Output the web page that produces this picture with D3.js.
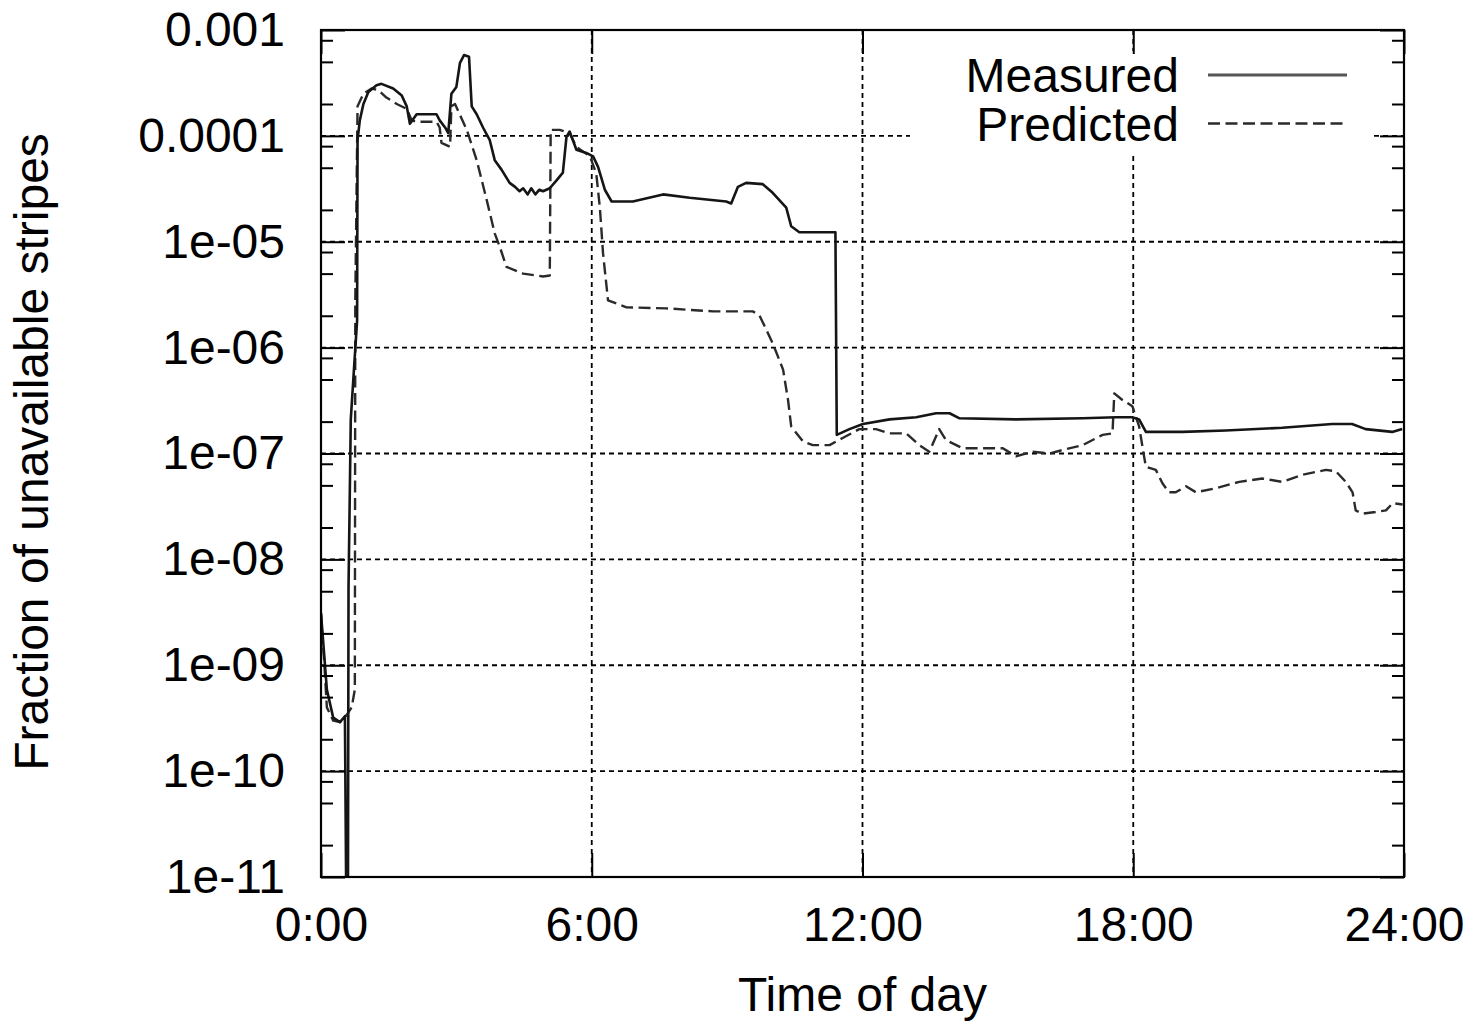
<!DOCTYPE html>
<html lang="en">
<head>
<meta charset="UTF-8">
<title>Fraction of unavailable stripes</title>
<script src="https://cdn.jsdelivr.net/npm/d3@7"></script>
<style>
  body { margin: 0; background: #fff; }
  text { font-family: "Liberation Sans", Arial, sans-serif; fill: #000; }
</style>
</head>
<body>
<script>
  // data (hours since midnight, fraction)
  var measuredHours = [0, 0.13, 0.27, 0.42, 0.53, 0.59, 0.61, 0.66, 0.73, 0.80, 0.81, 0.86, 0.94, 1.05, 1.23, 1.34,
    1.60, 1.79, 1.90, 1.97, 2.12, 2.19, 2.56, 2.63, 2.75, 2.82, 2.89, 3.00, 3.08, 3.17, 3.28, 3.34, 3.45, 3.59,
    3.74, 3.85, 4.00, 4.18, 4.30, 4.40, 4.48, 4.58, 4.66, 4.75, 4.84, 4.92, 5.07, 5.22, 5.36, 5.44, 5.51, 5.66,
    5.88, 6.03, 6.14, 6.29, 6.44, 6.91, 7.58, 8.17, 8.98, 9.09, 9.24, 9.42, 9.79, 10.01, 10.31, 10.42, 10.60,
    11.40, 11.43, 11.71, 12.01, 12.60, 13.19, 13.63, 13.93, 14.15, 15.40, 16.88, 17.62, 17.98, 18.13, 18.28,
    19.09, 20.05, 21.30, 22.41, 22.85, 23.15, 23.74, 23.96];
  var measuredValues = [3.1e-9, 5.9e-10, 3.2e-10, 2.9e-10, 3.3e-10, 1e-13, 5.4e-9, 2.1e-7, 6.2e-7, 1.8e-6, 9.1e-5,
    1.4e-4, 2.0e-4, 2.6e-4, 3.0e-4, 3.1e-4, 2.8e-4, 2.4e-4, 1.9e-4, 1.3e-4, 1.6e-4, 1.6e-4, 1.6e-4, 1.4e-4,
    1.2e-4, 1.06e-4, 2.5e-4, 2.9e-4, 4.9e-4, 5.8e-4, 5.6e-4, 1.9e-4, 1.6e-4, 1.2e-4, 9.1e-5, 5.9e-5, 4.8e-5,
    3.6e-5, 3.3e-5, 3.0e-5, 3.2e-5, 2.8e-5, 3.2e-5, 2.8e-5, 3.1e-5, 3.0e-5, 3.2e-5, 3.8e-5, 4.5e-5, 9.8e-5,
    1.1e-4, 7.4e-5, 6.9e-5, 6.4e-5, 5.1e-5, 3.1e-5, 2.4e-5, 2.4e-5, 2.8e-5, 2.6e-5, 2.4e-5, 2.3e-5, 3.3e-5,
    3.6e-5, 3.5e-5, 2.9e-5, 2.1e-5, 1.4e-5, 1.23e-5, 1.23e-5, 1.5e-7, 1.7e-7, 1.9e-7, 2.1e-7, 2.2e-7, 2.4e-7,
    2.4e-7, 2.15e-7, 2.1e-7, 2.15e-7, 2.2e-7, 2.2e-7, 2.1e-7, 1.6e-7, 1.6e-7, 1.65e-7, 1.75e-7, 1.9e-7, 1.9e-7,
    1.7e-7, 1.6e-7, 1.7e-7];

  var predictedHours = [0, 0.07, 0.13, 0.27, 0.42, 0.57, 0.68, 0.75, 0.76, 0.81, 0.94, 1.12, 1.27, 1.45, 1.68, 1.90,
    2.01, 2.12, 2.56, 2.63, 2.67, 2.86, 2.89, 2.97, 3.23, 3.45, 3.67, 3.85, 3.96, 4.11, 4.48, 4.92, 5.07, 5.09,
    5.29, 5.51, 5.66, 5.96, 6.10, 6.18, 6.25, 6.36, 6.77, 7.65, 8.69, 9.57, 9.72, 10.01, 10.24, 10.35, 10.42,
    10.68, 10.90, 11.27, 11.56, 11.93, 12.30, 12.60, 12.97, 13.26, 13.48, 13.70, 13.85, 14.22, 15.11, 15.40,
    15.77, 16.14, 16.51, 16.88, 17.32, 17.54, 17.58, 17.76, 17.98, 18.13, 18.24, 18.28, 18.50, 18.65, 18.79,
    18.94, 19.17, 19.39, 19.83, 20.35, 20.86, 21.30, 21.75, 22.27, 22.49, 22.71, 22.86, 22.93, 23.08, 23.37,
    23.60, 23.75, 23.97];
  var predictedValues = [3.1e-9, 1.1e-9, 4.0e-10, 3.0e-10, 2.9e-10, 3.4e-10, 4.0e-10, 5.9e-10, 2.8e-6, 1.9e-4,
    2.5e-4, 2.8e-4, 2.7e-4, 2.3e-4, 2.0e-4, 1.8e-4, 1.4e-4, 1.36e-4, 1.36e-4, 1.2e-4, 8.6e-5, 7.9e-5, 1.9e-4,
    2.0e-4, 1.14e-4, 5.9e-5, 2.5e-5, 1.2e-5, 9.0e-6, 5.8e-6, 5.0e-6, 4.7e-6, 4.8e-6, 1.14e-4, 1.14e-4, 1.06e-4,
    7.9e-5, 6.4e-5, 4.4e-5, 2.1e-5, 7.8e-6, 2.8e-6, 2.4e-6, 2.35e-6, 2.2e-6, 2.2e-6, 2.0e-6, 1.1e-6, 6.2e-7,
    3.2e-7, 1.8e-7, 1.3e-7, 1.2e-7, 1.2e-7, 1.4e-7, 1.7e-7, 1.7e-7, 1.55e-7, 1.55e-7, 1.2e-7, 1.04e-7, 1.7e-7,
    1.34e-7, 1.12e-7, 1.12e-7, 9.4e-8, 1.04e-7, 1.0e-7, 1.1e-7, 1.2e-7, 1.5e-7, 1.55e-7, 3.7e-7, 3.2e-7, 2.8e-7,
    1.8e-7, 9.4e-8, 7.5e-8, 7.0e-8, 5.2e-8, 4.3e-8, 4.3e-8, 4.9e-8, 4.3e-8, 4.7e-8, 5.4e-8, 5.8e-8, 5.4e-8,
    6.3e-8, 7.0e-8, 6.8e-8, 5.4e-8, 4.3e-8, 2.9e-8, 2.7e-8, 2.8e-8, 2.9e-8, 3.4e-8, 3.3e-8];

  var xTicks = [0, 6, 12, 18, 24];
  var xTickLabels = ["0:00", "6:00", "12:00", "18:00", "24:00"];
  var yTicks = [1e-11, 1e-10, 1e-9, 1e-8, 1e-7, 1e-6, 1e-5, 1e-4, 1e-3];
  var yTickLabels = ["1e-11", "1e-10", "1e-09", "1e-08", "1e-07", "1e-06", "1e-05", "0.0001", "0.001"];
  var seriesNames = ["Measured", "Predicted"];

  var W = 1469, H = 1024;
  var pLeft = 321, pRight = 1404, pTop = 30, pBottom = 877;
  var fs = 48;

  var x = d3.scaleLinear().domain([0, 24]).range([pLeft, pRight]);
  var y = d3.scaleLog().domain([1e-11, 1e-3]).range([pBottom, pTop]);

  var minorY = [];
  for (var e = -11; e < -3; e++) {
    [2, 5, 8].forEach(function(m) { minorY.push(m * Math.pow(10, e)); });
  }

  var svg = d3.select("body").append("svg").attr("width", W).attr("height", H);

  svg.append("defs").append("clipPath").attr("id", "plotclip")
    .append("rect").attr("x", pLeft).attr("y", pTop).attr("width", pRight - pLeft).attr("height", pBottom - pTop);

  // grid
  var grid = svg.append("g").attr("stroke", "#000").attr("stroke-width", 1.8).attr("stroke-dasharray", "5,4");
  grid.selectAll(".gy").data(yTicks.slice(1, -1)).enter().append("line")
    .attr("x1", pLeft).attr("x2", pRight).attr("y1", function(d) { return y(d); }).attr("y2", function(d) { return y(d); });
  grid.selectAll(".gx").data(xTicks.slice(1, -1)).enter().append("line")
    .attr("y1", pTop).attr("y2", pBottom).attr("x1", function(d) { return x(d); }).attr("x2", function(d) { return x(d); });

  // key background hides the grid
  svg.append("rect").attr("x", 910).attr("y", 51).attr("width", 462).attr("height", 101).attr("fill", "#fff");

  // curves
  var line = d3.line().x(function(d) { return x(d[0]); }).y(function(d) { return y(d[1]); });
  var measured = d3.zip(measuredHours, measuredValues);
  var predicted = d3.zip(predictedHours, predictedValues);

  var plot = svg.append("g").attr("clip-path", "url(#plotclip)");
  plot.append("path").datum(predicted).attr("d", line).attr("fill", "none")
    .attr("stroke", "#2a2a2a").attr("stroke-width", 2.4).attr("stroke-dasharray", "12,5.5")
    .attr("stroke-linejoin", "round");
  plot.append("path").datum(measured).attr("d", line).attr("fill", "none")
    .attr("stroke", "#151515").attr("stroke-width", 2.6).attr("stroke-linejoin", "round");

  // axes: ticks drawn inward, mirrored on top and right
  function styleAxis(g) {
    g.select(".domain").remove();
    g.attr("font-family", null).attr("font-size", null);
    g.selectAll("line").attr("stroke", "#000").attr("stroke-width", 2);
    g.selectAll("text").style("font-size", fs + "px").attr("fill", "#000");
  }

  svg.append("g").attr("transform", "translate(" + pLeft + ",0)")
    .call(d3.axisLeft(y).tickValues(yTicks).tickSize(-24).tickPadding(36)
      .tickFormat(function(d, i) { return yTickLabels[i]; }))
    .call(styleAxis);
  svg.append("g").attr("transform", "translate(" + pLeft + ",0)")
    .call(d3.axisLeft(y).tickValues(minorY).tickSize(-12).tickFormat(""))
    .call(styleAxis);
  svg.append("g").attr("transform", "translate(" + pRight + ",0)")
    .call(d3.axisRight(y).tickValues(yTicks).tickSize(-24).tickFormat(""))
    .call(styleAxis);
  svg.append("g").attr("transform", "translate(" + pRight + ",0)")
    .call(d3.axisRight(y).tickValues(minorY).tickSize(-12).tickFormat(""))
    .call(styleAxis);
  svg.append("g").attr("transform", "translate(0," + pBottom + ")")
    .call(d3.axisBottom(x).tickValues(xTicks).tickSize(-24).tickPadding(30)
      .tickFormat(function(d, i) { return xTickLabels[i]; }))
    .call(styleAxis);
  svg.append("g").attr("transform", "translate(0," + pTop + ")")
    .call(d3.axisTop(x).tickValues(xTicks).tickSize(-24).tickFormat(""))
    .call(styleAxis);

  // frame
  svg.append("rect").attr("x", pLeft).attr("y", pTop).attr("width", pRight - pLeft).attr("height", pBottom - pTop)
    .attr("fill", "none").attr("stroke", "#000").attr("stroke-width", 2.2);

  // axis titles
  svg.append("text").attr("x", x(12)).attr("y", 1011).attr("text-anchor", "middle")
    .style("font-size", fs + "px").text("Time of day");
  svg.append("text").attr("transform", "translate(48," + 452 + ") rotate(-90)").attr("text-anchor", "middle")
    .style("font-size", fs + "px").text("Fraction of unavailable stripes");

  // key
  var key = svg.append("g");
  seriesNames.forEach(function(name, i) {
    var ky = 75 + i * 48.5;
    key.append("text").attr("x", 1179).attr("y", ky + 17).attr("text-anchor", "end")
      .style("font-size", fs + "px").text(name);
    key.append("line").attr("x1", 1208).attr("x2", 1347).attr("y1", ky).attr("y2", ky)
      .attr("stroke", i === 0 ? "#555" : "#2a2a2a").attr("stroke-width", i === 0 ? 3 : 2.4)
      .attr("stroke-dasharray", i === 0 ? null : "12,5.5");
  });
</script>
</body>
</html>
